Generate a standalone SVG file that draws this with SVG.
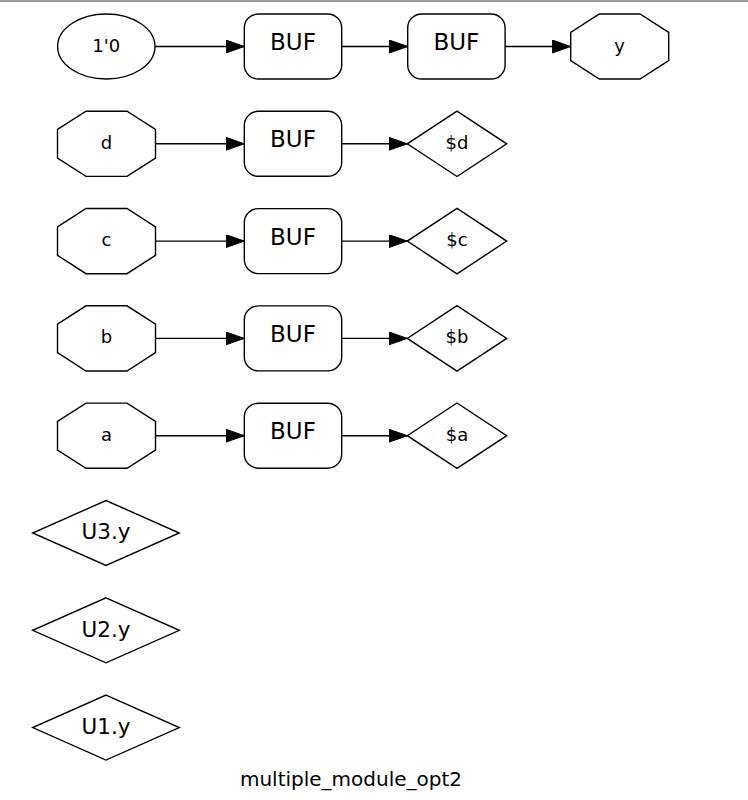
<svg xmlns="http://www.w3.org/2000/svg" width="748" height="800" viewBox="0 0 748 800">
<style>
.n{fill:#fff;stroke:#000;stroke-width:1.4}
.e{fill:none;stroke:#000;stroke-width:1.4}
.t{font-family:"DejaVu Sans",sans-serif;text-anchor:middle;fill:#000}
.s{font-size:18px}
.b{font-size:23px}
.u{font-size:21.5px}
</style>
<defs>
<marker id="ah" markerWidth="19" markerHeight="14" refX="18.5" refY="6.5" orient="auto" markerUnits="userSpaceOnUse">
<path d="M0,0 L18.5,6.5 L0,13 Z" fill="#000" stroke="#000" stroke-width="1"/>
</marker>
</defs>
<rect width="748" height="800" fill="#fff"/>
<line x1="0" y1="1" x2="748" y2="1" stroke="#999" stroke-width="2"/>

<g id="const0">
<ellipse class="n" cx="106.3" cy="46.5" rx="48.7" ry="32.5"/>
<text class="t s" x="106.3" y="51.5">1'0</text>
</g>
<g id="buf0a">
<rect class="n" x="244.3" y="14" width="97.4" height="65" rx="14" ry="14"/>
<text class="t b" x="293" y="50">BUF</text>
</g>
<g id="buf0b">
<rect class="n" x="407.7" y="14" width="97.4" height="65" rx="14" ry="14"/>
<text class="t b" x="456.4" y="50">BUF</text>
</g>
<g id="y">
<polygon class="n" points="599.3,14 640,14 668.7,32.3 668.7,60.7 640,79 599.3,79 570.7,60.7 570.7,32.3"/>
<text class="t s" x="619.7" y="51.5">y</text>
</g>

<g id="d">
<polygon class="n" points="86,111.2 127,111.2 155.5,129.5 155.5,158.1 127,176.4 86,176.4 57.5,158.1 57.5,129.5"/>
<text class="t s" x="106.5" y="148.8">d</text>
</g>
<g id="bufd">
<rect class="n" x="244.3" y="111.3" width="97.4" height="65" rx="14" ry="14"/>
<text class="t b" x="293" y="147.3">BUF</text>
</g>
<g id="sd">
<polygon class="n" points="457,111.1 506.7,143.8 457,176.5 407.3,143.8"/>
<text class="t s" x="457" y="148.8">$d</text>
</g>

<g id="c">
<polygon class="n" points="86,208.5 127,208.5 155.5,226.8 155.5,255.4 127,273.7 86,273.7 57.5,255.4 57.5,226.8"/>
<text class="t s" x="106.5" y="246.1">c</text>
</g>
<g id="bufc">
<rect class="n" x="244.3" y="208.6" width="97.4" height="65" rx="14" ry="14"/>
<text class="t b" x="293" y="244.6">BUF</text>
</g>
<g id="sc">
<polygon class="n" points="457,208.4 506.7,241.1 457,273.8 407.3,241.1"/>
<text class="t s" x="457" y="246.1">$c</text>
</g>

<g id="b">
<polygon class="n" points="86,305.8 127,305.8 155.5,324.1 155.5,352.7 127,371 86,371 57.5,352.7 57.5,324.1"/>
<text class="t s" x="106.5" y="343.4">b</text>
</g>
<g id="bufb">
<rect class="n" x="244.3" y="305.9" width="97.4" height="65" rx="14" ry="14"/>
<text class="t b" x="293" y="341.9">BUF</text>
</g>
<g id="sb">
<polygon class="n" points="457,305.7 506.7,338.4 457,371.1 407.3,338.4"/>
<text class="t s" x="457" y="343.4">$b</text>
</g>

<g id="a">
<polygon class="n" points="86,403.1 127,403.1 155.5,421.4 155.5,450 127,468.3 86,468.3 57.5,450 57.5,421.4"/>
<text class="t s" x="106.5" y="440.7">a</text>
</g>
<g id="bufa">
<rect class="n" x="244.3" y="403.2" width="97.4" height="65" rx="14" ry="14"/>
<text class="t b" x="293" y="439.2">BUF</text>
</g>
<g id="sa">
<polygon class="n" points="457,403 506.7,435.7 457,468.4 407.3,435.7"/>
<text class="t s" x="457" y="440.7">$a</text>
</g>

<g id="U3y">
<polygon class="n" points="106,500.5 179.3,533 106,565.5 32.7,533"/>
<text class="t u" x="106" y="539.3">U3.y</text>
</g>
<g id="U2y">
<polygon class="n" points="106,597.8 179.3,630.3 106,662.8 32.7,630.3"/>
<text class="t u" x="106" y="636.6">U2.y</text>
</g>
<g id="U1y">
<polygon class="n" points="106,695.1 179.3,727.6 106,760.1 32.7,727.6"/>
<text class="t u" x="106" y="733.9">U1.y</text>
</g>

<g id="edges">
<line class="e" x1="155" y1="46.5" x2="244.3" y2="46.5" marker-end="url(#ah)"/>
<line class="e" x1="341.7" y1="46.5" x2="407.7" y2="46.5" marker-end="url(#ah)"/>
<line class="e" x1="505.1" y1="46.5" x2="570.7" y2="46.5" marker-end="url(#ah)"/>
<line class="e" x1="155.5" y1="143.8" x2="244.3" y2="143.8" marker-end="url(#ah)"/>
<line class="e" x1="341.7" y1="143.8" x2="407.3" y2="143.8" marker-end="url(#ah)"/>
<line class="e" x1="155.5" y1="241.1" x2="244.3" y2="241.1" marker-end="url(#ah)"/>
<line class="e" x1="341.7" y1="241.1" x2="407.3" y2="241.1" marker-end="url(#ah)"/>
<line class="e" x1="155.5" y1="338.4" x2="244.3" y2="338.4" marker-end="url(#ah)"/>
<line class="e" x1="341.7" y1="338.4" x2="407.3" y2="338.4" marker-end="url(#ah)"/>
<line class="e" x1="155.5" y1="435.7" x2="244.3" y2="435.7" marker-end="url(#ah)"/>
<line class="e" x1="341.7" y1="435.7" x2="407.3" y2="435.7" marker-end="url(#ah)"/>
</g>

<text id="title" class="t" x="351" y="786" font-size="20">multiple_module_opt2</text>
</svg>
